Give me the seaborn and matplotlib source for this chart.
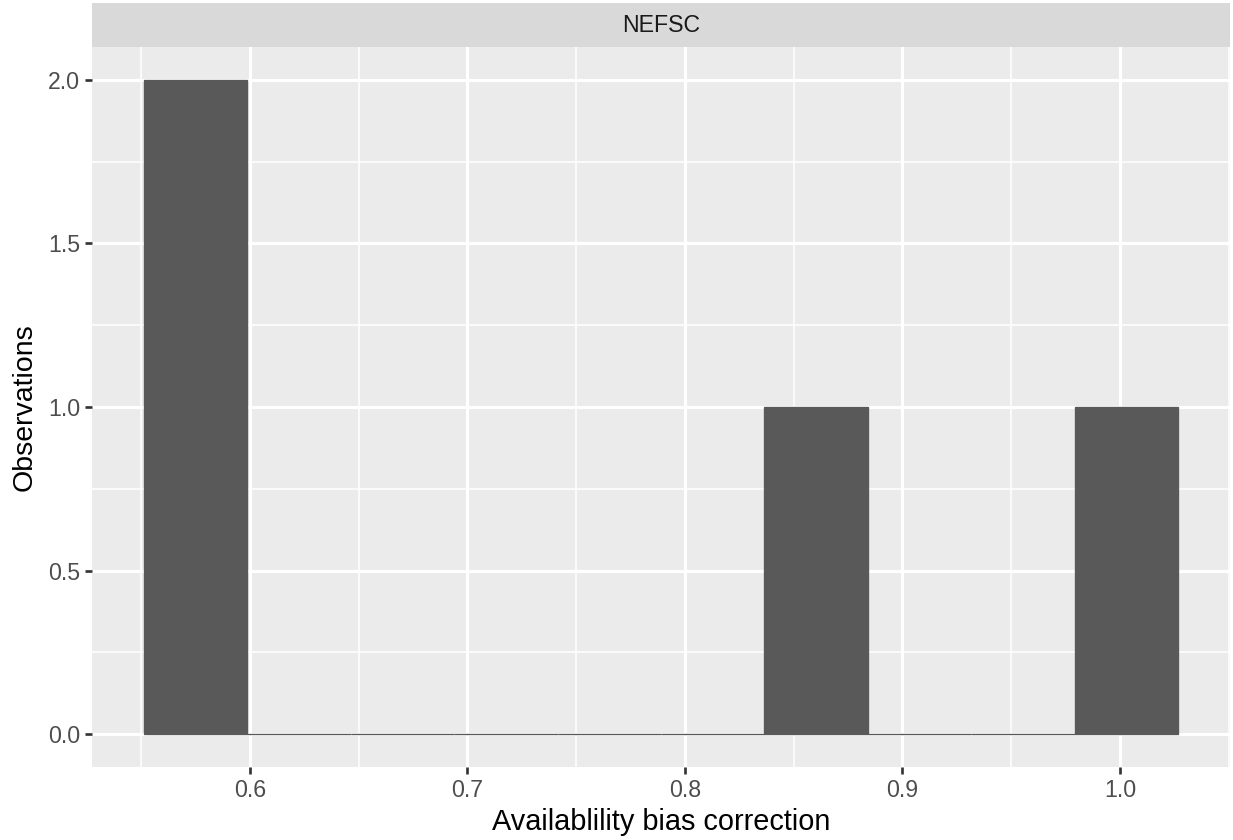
import numpy as np
import pandas as pd
import matplotlib
matplotlib.use("Agg")
import matplotlib.pyplot as plt
import seaborn as sns

# Availability bias correction estimates for the NEFSC survey
survey = ["NEFSC", "NEFSC", "NEFSC", "NEFSC"]
correction = [0.575, 0.590, 0.860, 1.003]
n_bins = 10

x_ticks = [0.6, 0.7, 0.8, 0.9, 1.0]
x_minor = [0.55, 0.65, 0.75, 0.85, 0.95, 1.05]
y_ticks = [0.0, 0.5, 1.0, 1.5, 2.0]
y_minor = [0.25, 0.75, 1.25, 1.75]

df = pd.DataFrame({"survey": survey, "correction": correction})

sns.set_theme(style="darkgrid")
plt.rcParams["font.family"] = ["Liberation Sans", "DejaVu Sans"]

DPI = 160
W, H = 1233, 840
fig = plt.figure(figsize=(W / DPI, H / DPI), dpi=DPI)
fig.patch.set_facecolor("white")

# panel and strip placement in pixels
pl, pr, pt, pb = 92, 1230, 47, 767
st = 3
ax = fig.add_axes([pl / W, 1 - pb / H, (pr - pl) / W, (pb - pt) / H])
strip = fig.add_axes([pl / W, 1 - pt / H, (pr - pl) / W, (pt - st) / H])

# centred bins (one bin centred on the minimum, one on the maximum)
lo, hi = min(correction), max(correction)
width = (hi - lo) / (n_bins - 1)
brange = (lo - width / 2, hi + width / 2)

sns.histplot(data=df, x="correction", bins=n_bins, binrange=brange, ax=ax,
             color="#595959", alpha=1, edgecolor="#595959", linewidth=0.6,
             zorder=3)

ax.set_facecolor("#EBEBEB")
for s in ax.spines.values():
    s.set_visible(False)

span = brange[1] - brange[0]
ax.set_xlim(brange[0] - 0.05 * span, brange[1] + 0.05 * span)
ymax = 2.0
ax.set_ylim(-0.05 * ymax, ymax * 1.05)

ax.set_xticks(x_ticks)
ax.set_xticklabels([f"{v:.1f}" for v in x_ticks])
ax.set_yticks(y_ticks)
ax.set_yticklabels([f"{v:.1f}" for v in y_ticks])
ax.set_xticks(x_minor, minor=True)
ax.set_yticks(y_minor, minor=True)

ax.grid(which="major", color="white", linewidth=1.4, zorder=0)
ax.grid(which="minor", color="white", linewidth=0.7, zorder=0)
ax.set_axisbelow(True)

ax.tick_params(axis="both", which="major", length=3.2, width=1.2,
               color="#333333", labelsize=10.4, labelcolor="#4D4D4D", pad=2.2)
ax.tick_params(axis="both", which="minor", length=0)
ax.tick_params(axis="x", bottom=True)
ax.tick_params(axis="y", left=True)

ax.set_xlabel("Availablility bias correction", fontsize=13, color="black",
              labelpad=2.5)
ax.set_ylabel("Observations", fontsize=12.8, color="black", labelpad=4.8)

strip.set_facecolor("#D9D9D9")
strip.set_xticks([])
strip.set_yticks([])
for s in strip.spines.values():
    s.set_visible(False)
strip.text(0.5, 0.5, survey[0], ha="center", va="center", fontsize=10.4,
           color="#1A1A1A", transform=strip.transAxes)

fig.savefig("out.png", dpi=DPI)
